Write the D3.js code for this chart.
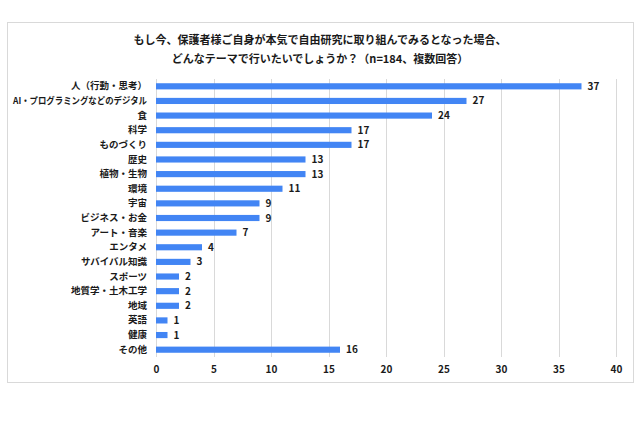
<!DOCTYPE html>
<html><head><meta charset="utf-8">
<script src="https://cdn.jsdelivr.net/npm/d3@7"></script>
<style>
html,body{margin:0;padding:0;background:#fff;}
svg{display:block;font-family:"Noto Sans CJK JP","Noto Sans",sans-serif;}
</style></head><body>
<script>
const categories = ["人（行動・思考）","AI・プログラミングなどのデジタル","食","科学","ものづくり","歴史","植物・生物","環境","宇宙","ビジネス・お金","アート・音楽","エンタメ","サバイバル知識","スポーツ","地質学・土木工学","地域","英語","健康","その他"];
const values = [37,27,24,17,17,13,13,11,9,9,7,4,3,2,2,2,1,1,16];
const xTicks = [0,5,10,15,20,25,30,35,40];
const titleLines = ["もし今、保護者様ご自身が本気で自由研究に取り組んでみるとなった場合、","どんなテーマで行いたいでしょうか？（n=184、複数回答）"];

const W = 640, H = 426;
const svg = d3.select("body").append("svg").attr("width", W).attr("height", H);

svg.append("rect").attr("x", 7.5).attr("y", 22.5).attr("width", 626).attr("height", 360)
  .attr("fill", "#fff").attr("stroke", "#d9d9d9").attr("stroke-width", 1);

svg.selectAll("text.title").data(titleLines).join("text")
  .attr("class", "title")
  .attr("x", 320).attr("y", (d, i) => 44 + i * 19)
  .attr("text-anchor", "middle")
  .attr("font-size", 11).attr("font-weight", 700).attr("fill", "#1a1a1a")
  .text(d => d);

const x = d3.scaleLinear().domain([0, 40]).range([156, 616]);
const y = d3.scaleBand().domain(categories).range([79, 357]).paddingInner(0.58).paddingOuter(0.29);

const g = svg.append("g");
g.selectAll("line.grid").data(xTicks).join("line")
  .attr("class", "grid")
  .attr("x1", d => Math.round(x(d)) + 0.5).attr("x2", d => Math.round(x(d)) + 0.5)
  .attr("y1", 79).attr("y2", 357)
  .attr("stroke", "#d9d9d9").attr("stroke-width", 1);

const xAxis = d3.axisBottom(x).tickValues(xTicks).tickSize(0).tickPadding(0);
svg.append("g").attr("transform", "translate(0,366)").call(xAxis)
  .call(a => a.select(".domain").remove())
  .call(a => a.selectAll("text").attr("font-size", 10).attr("font-weight", 700).attr("fill", "#1a1a1a")
    .attr("font-family", "\"Noto Sans CJK JP\",sans-serif"));

g.selectAll("rect.bar").data(values).join("rect")
  .attr("class", "bar")
  .attr("x", x(0))
  .attr("y", (d, i) => y(categories[i]))
  .attr("width", d => x(d) - x(0))
  .attr("height", y.bandwidth())
  .attr("fill", "#4285f4");

g.selectAll("text.val").data(values).join("text")
  .attr("class", "val")
  .attr("x", d => x(d) + 6)
  .attr("y", (d, i) => y(categories[i]) + y.bandwidth() / 2)
  .attr("dy", "0.35em")
  .attr("font-size", 10).attr("font-weight", 700).attr("fill", "#1a1a1a")
  .text(d => d);

const yAxis = d3.axisLeft(y).tickSize(0).tickPadding(9);
svg.append("g").attr("transform", `translate(${x(0)},0)`).call(yAxis)
  .call(a => a.select(".domain").remove())
  .call(a => a.selectAll("text").attr("font-size", 9.5).attr("font-weight", 700).attr("fill", "#1a1a1a")
    .attr("font-family", "\"Noto Sans CJK JP\",sans-serif")
    .each(function() {
      const len = this.getComputedTextLength();
      if (len > 134) d3.select(this).attr("textLength", 134).attr("lengthAdjust", "spacingAndGlyphs");
    }));
</script>
</body></html>
